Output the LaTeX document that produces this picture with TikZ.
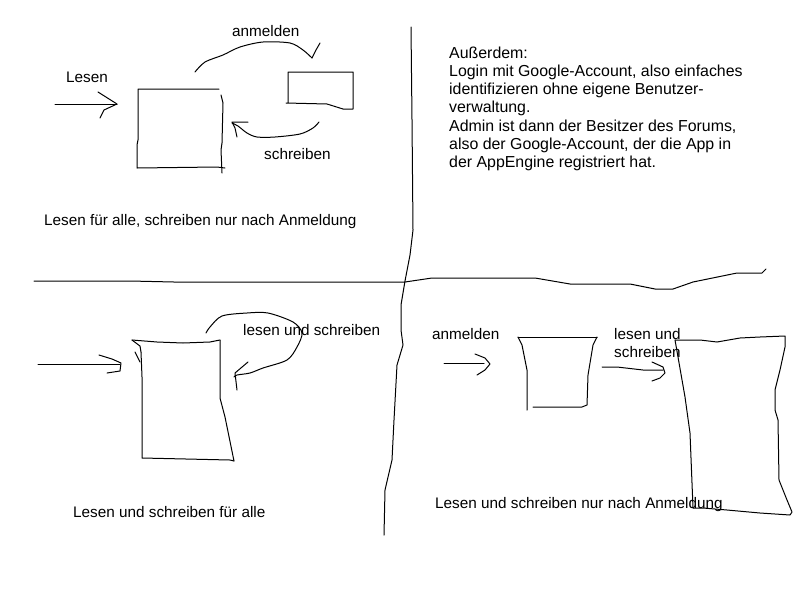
\documentclass[tikz,border=0pt]{standalone}
\usepackage{fontspec}
\setmainfont{Liberation Sans}
\begin{document}
\begin{tikzpicture}[x=1pt,y=-1pt,
  pen/.style={line width=1pt,line join=round,line cap=round},
  label/.style={inner sep=0pt,anchor=base west,font=\fontsize{15.3}{18.3}\selectfont},
  note/.style={label,font=\fontsize{15.9}{18.3}\selectfont}]
\useasboundingbox[fill=white] (0,0) rectangle (800,600);

% ---- dividers ----
\draw[pen] (34,281) -- (130,281) -- (174,282) -- (405,282) -- (432,278) -- (535,278)
  -- (570,284) -- (630,284) -- (655,289) -- (673,289) -- (693,282) -- (737,273)
  -- (762,273) -- (766,269);
\draw[pen] (411,27) -- (412,120) -- (413,230) -- (410,255) -- (405,281) -- (401,305)
  -- (401,330) -- (403,345) -- (397,365) -- (394,420) -- (392,460) -- (385,490) -- (384,535);

% ---- top left: read for all, write after login ----
\node[label] (lesen) at (66,82) {Lesen};
\draw[pen] (55,104) -- (117,104);
\draw[pen] (98,92) -- (117,104) -- (104,110) -- (100,118);
\draw[pen] (219,89) -- (138,89) -- (138,140) -- (137,145) -- (137,168) -- (217,167) -- (225,168);
\draw[pen] (221,95) -- (223,103) -- (222,143) -- (221,150) -- (222,173);

\node[label] (anm1) at (232,36) {anmelden};
\draw[pen] plot[smooth] coordinates {(195,72) (205,62) (223,55) (240,47) (263,42) (290,43) (303,50) (312,58)};
\draw[pen] (312,58) -- (316,50) -- (320,43);
\draw[pen] (288,103) -- (288,72) -- (353,72) -- (353,109) -- (343,109) -- (327,104) -- (286,103);

\node[label] (schr1) at (264,159) {schreiben};
\draw[pen] plot[smooth] coordinates {(319,122) (313,128) (300,134) (275,137) (257,137) (247,133) (238,126) (232,123)};
\draw[pen] (248,122) -- (232,122) -- (235,128) -- (237,137);

\node[label] (cap1) at (44,225) {Lesen für alle, schreiben nur nach Anmeldung};

% ---- top right: notes ----
\node[note] (info1) at (449,58) {Außerdem:};
\node[note] (info2) at (449,76.3) {Login mit Google-Account, also einfaches};
\node[note] (info3) at (449,94.6) {identifizieren ohne eigene Benutzer-};
\node[note] (info4) at (449,112.9) {verwaltung.};
\node[note] (info5) at (449,131.2) {Admin ist dann der Besitzer des Forums,};
\node[note] (info6) at (449,149.5) {also der Google-Account, der die App in};
\node[note] (info7) at (449,167.8) {der AppEngine registriert hat.};

% ---- bottom left: read and write for all ----
\draw[pen] (38,364) -- (120,364);
\draw[pen] (99,355) -- (112,359) -- (121,363) -- (120,371) -- (107,373);
\draw[pen] (132,340) -- (157,342) -- (183,343) -- (210,342) -- (220,340);
\draw[pen] (132,340) -- (140,346) -- (141,352);
\draw[pen] (135,352) -- (140,362);
\draw[pen] (141,352) -- (142,377) -- (142,458) -- (230,460) -- (234,461);
\draw[pen] (220,340) -- (220,398) -- (225,417) -- (234,461);

\node[label] (lus1) at (243,335) {lesen und schreiben};
\draw[pen] plot[smooth] coordinates {(206,333) (210,327) (222,316) (247,313) (268,313) (293,322) (302,333) (297,347) (287,360) (263,368) (250,373) (237,375) (234,377)};
\draw[pen] (248,362) -- (235,373) -- (237,390);

\node[label] (cap2) at (73,517) {Lesen und schreiben für alle};

% ---- bottom right: read and write after login ----
\node[label] (anm2) at (432,339) {anmelden};
\draw[pen] (444,363) -- (484,363);
\draw[pen] (475,354) -- (485,358) -- (490,364) -- (485,370) -- (477,375);
\draw[pen] (518,337) -- (597,337);
\draw[pen] (518,337) -- (522,345) -- (527,370) -- (527,410);
\draw[pen] (597,337) -- (593,345) -- (588,375) -- (587,405) -- (582,407) -- (533,407);

\node[label] (lus2a) at (614,339) {lesen und};
\node[label] (lus2b) at (614,357) {schreiben};
\draw[pen] (602,367) -- (617,367) -- (643,370) -- (663,370);
\draw[pen] (652,362) -- (663,367) -- (665,373) -- (660,378) -- (652,381);

\draw[pen] (675,340) -- (700,340) -- (717,342) -- (740,338) -- (760,337) -- (785,336)
  -- (785,347) -- (780,370) -- (775,390) -- (775,410) -- (778,420) -- (779,480)
  -- (787,500) -- (792,512) -- (790,515) -- (760,513) -- (727,510) -- (703,508) -- (693,508);
\draw[pen] (675,340) -- (678,357) -- (685,397) -- (690,433) -- (692,483) -- (693,508);

\node[label] (cap3) at (435,508) {Lesen und schreiben nur nach Anmeldung};
\end{tikzpicture}
\end{document}
